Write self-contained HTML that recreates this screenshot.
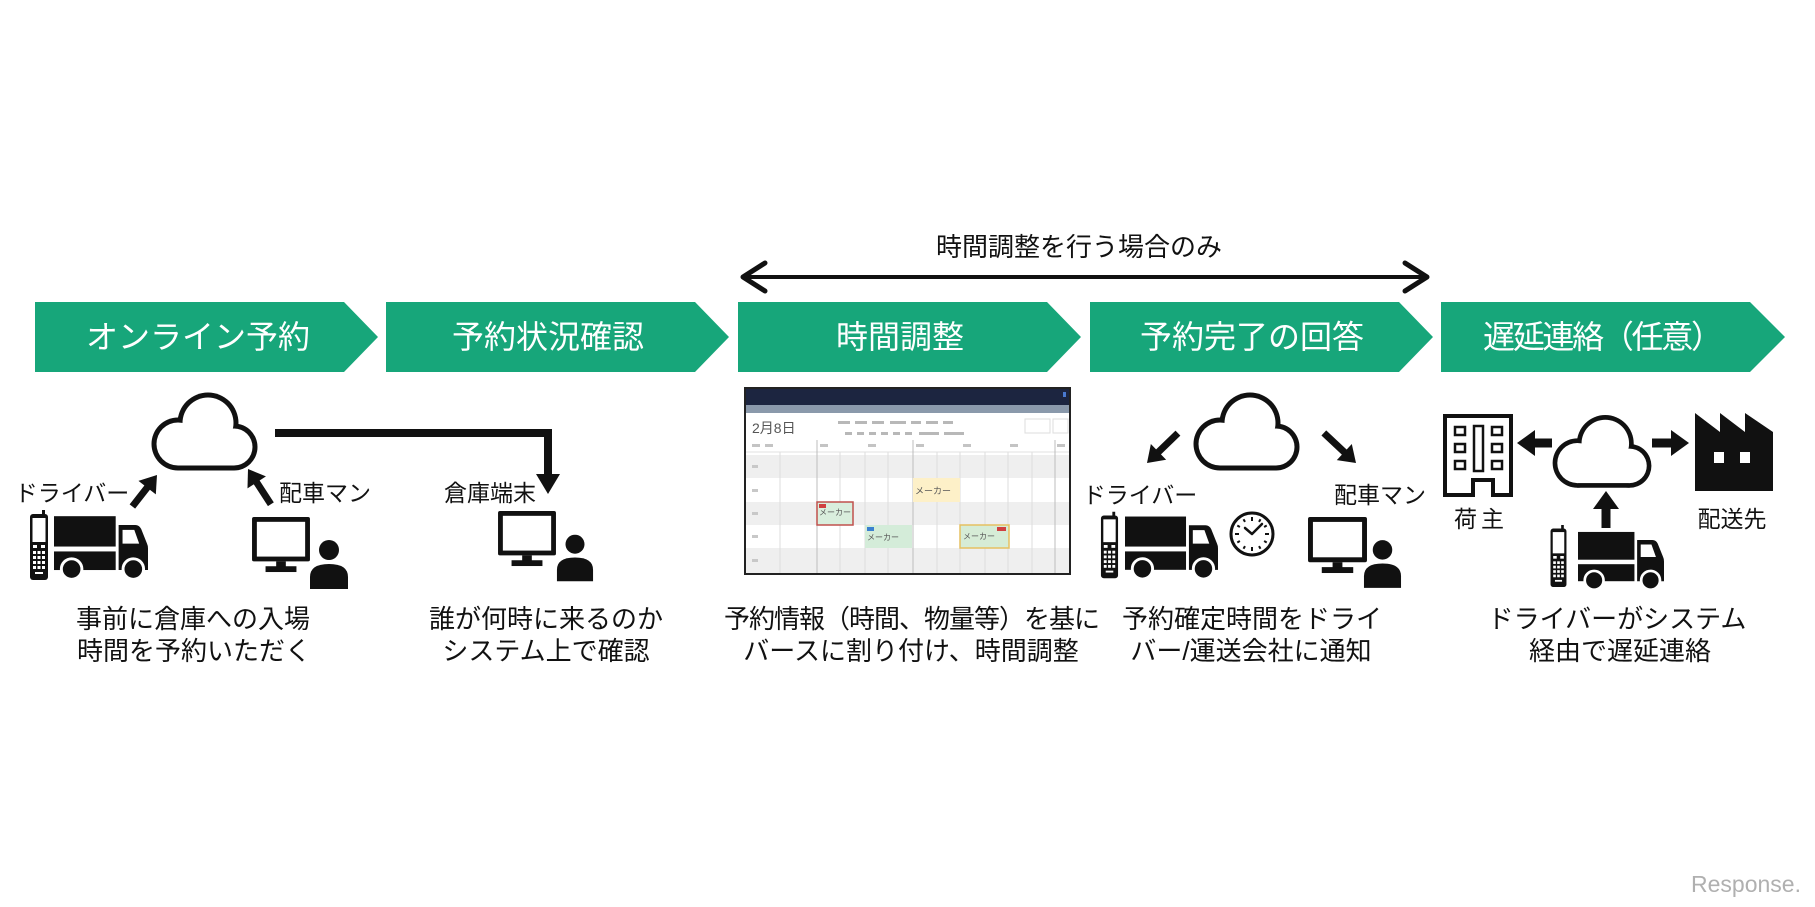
<!DOCTYPE html>
<html>
<head>
<meta charset="utf-8">
<style>
html,body{margin:0;padding:0;background:#fff;}
svg{display:block;}
text{font-family:"Liberation Sans","Noto Sans CJK JP",sans-serif;}
</style>
</head>
<body>
<svg width="1815" height="907" viewBox="0 0 1815 907" xmlns="http://www.w3.org/2000/svg">
<defs>
  <symbol id="cloud" viewBox="-3 -3 108 88">
    <g fill="#111">
      <circle cx="54" cy="34" r="30.5"/>
      <circle cx="24" cy="55" r="26.5"/>
      <circle cx="80" cy="58" r="23.5"/>
      <rect x="24" y="48" width="56" height="33.5"/>
    </g>
    <g fill="#fff">
      <circle cx="54" cy="34" r="25.5"/>
      <circle cx="24" cy="55" r="21.5"/>
      <circle cx="80" cy="58" r="18.5"/>
      <rect x="24" y="44" width="56" height="32.5"/>
    </g>
  </symbol>
  <symbol id="truck" viewBox="0 0 96 66">
    <rect x="0" y="0" width="63" height="31" fill="#111"/>
    <rect x="0" y="36" width="63" height="19" fill="#111"/>
    <path d="M66 9 H83 Q87 9 89 13 L95 28 Q96 30 96 33 V55 H66 Z" fill="#111"/>
    <path d="M70 14 H82 L87 28 H70 Z" fill="#fff"/>
    <circle cx="18" cy="54" r="10.5" fill="#111" stroke="#fff" stroke-width="3"/>
    <circle cx="81" cy="54" r="10.5" fill="#111" stroke="#fff" stroke-width="3"/>
  </symbol>
  <symbol id="phone" viewBox="0 0 20 70">
    <rect x="13" y="0" width="3" height="6" fill="#111"/>
    <rect x="1" y="4" width="18" height="66" rx="3" fill="#111"/>
    <rect x="3.5" y="8" width="13" height="24" fill="#fff"/>
    <rect x="4" y="35" width="4" height="3" fill="#fff"/><rect x="12" y="35" width="4" height="3" fill="#fff"/>
    <rect x="4" y="41" width="3" height="3" fill="#fff"/><rect x="8.5" y="41" width="3" height="3" fill="#fff"/><rect x="13" y="41" width="3" height="3" fill="#fff"/>
    <rect x="4" y="46" width="3" height="3" fill="#fff"/><rect x="8.5" y="46" width="3" height="3" fill="#fff"/><rect x="13" y="46" width="3" height="3" fill="#fff"/>
    <rect x="4" y="51" width="3" height="3" fill="#fff"/><rect x="8.5" y="51" width="3" height="3" fill="#fff"/><rect x="13" y="51" width="3" height="3" fill="#fff"/>
    <rect x="4" y="56" width="3" height="3" fill="#fff"/><rect x="8.5" y="56" width="3" height="3" fill="#fff"/><rect x="13" y="56" width="3" height="3" fill="#fff"/>
    <rect x="6" y="62" width="8" height="2" fill="#fff"/>
  </symbol>
  <symbol id="monitor" viewBox="0 0 60 58">
    <rect x="0" y="0" width="60" height="46" rx="2" fill="#111"/>
    <rect x="5" y="5" width="50" height="36" fill="#fff"/>
    <rect x="25" y="46" width="10" height="6" fill="#111"/>
    <rect x="14" y="51" width="32" height="6" fill="#111"/>
  </symbol>
  <symbol id="person" viewBox="0 0 40 50">
    <circle cx="20" cy="11" r="10" fill="#111"/>
    <path d="M1 50 V38 Q1 25 20 25 Q39 25 39 38 V50 Z" fill="#111"/>
  </symbol>
</defs>

<!-- Top double arrow -->
<text x="1079" y="247" font-size="26" fill="#111" text-anchor="middle" dominant-baseline="central">時間調整を行う場合のみ</text>
<line x1="744" y1="277" x2="1426" y2="277" stroke="#111" stroke-width="4"/>
<polyline points="765,263 743,277 765,291" fill="none" stroke="#111" stroke-width="5" stroke-linecap="round" stroke-linejoin="round"/>
<polyline points="1405,263 1427,277 1405,291" fill="none" stroke="#111" stroke-width="5" stroke-linecap="round" stroke-linejoin="round"/>

<!-- Banners -->
<g fill="#17a67a">
  <polygon points="35,302 344,302 378,337 344,372 35,372"/>
  <polygon points="386,302 695,302 729,337 695,372 386,372"/>
  <polygon points="738,302 1047,302 1081,337 1047,372 738,372"/>
  <polygon points="1090,302 1399,302 1433,337 1399,372 1090,372"/>
  <polygon points="1441,302 1750,302 1785,337 1750,372 1441,372"/>
</g>
<g fill="#fff" font-size="32" text-anchor="middle" dominant-baseline="central">
  <text x="198" y="337">オンライン予約</text>
  <text x="548" y="337">予約状況確認</text>
  <text x="900" y="337">時間調整</text>
  <text x="1252" y="337">予約完了の回答</text>
  <text x="1603" y="337" textLength="240" lengthAdjust="spacing">遅延連絡（任意）</text>
</g>

<!-- Panel 1 -->
<use href="#cloud" x="151" y="386" width="108" height="88"/>
<path d="M275 433 H548 V476" fill="none" stroke="#111" stroke-width="8"/>
<polygon points="536,474 560,474 548,494" fill="#111"/>
<g transform="translate(157,475) rotate(-52)" fill="#111">
  <rect x="-40" y="-3.5" width="27" height="7"/><polygon points="0,0 -16,-11 -16,11"/>
</g>
<g transform="translate(248,469) rotate(-123)" fill="#111">
  <rect x="-42" y="-3.5" width="29" height="7"/><polygon points="0,0 -16,-11 -16,11"/>
</g>
<g font-size="23" fill="#111" text-anchor="middle" dominant-baseline="central">
  <text x="72" y="493">ドライバー</text>
  <text x="325" y="493">配車マン</text>
  <text x="490" y="493">倉庫端末</text>
</g>
<use href="#phone" x="29" y="510" width="20" height="70"/>
<use href="#truck" x="54" y="516" width="94" height="65"/>
<use href="#monitor" x="252" y="517" width="58" height="56"/>
<use href="#person" x="309" y="539" width="40" height="50"/>

<!-- Panel 2 -->
<use href="#monitor" x="498" y="511" width="58" height="56"/>
<use href="#person" x="556" y="533" width="38" height="49"/>

<!-- Panel 3 : screenshot -->
<g>
  <rect x="745" y="388" width="325" height="186" fill="#fff" stroke="#222" stroke-width="2"/>
  <rect x="746" y="389" width="323" height="16" fill="#1c2540"/>
  <rect x="1063" y="392" width="3" height="5" fill="#4a7ad0"/>
  <rect x="746" y="405" width="323" height="8" fill="#8a99ab"/>
  <text x="752" y="428" font-size="14" fill="#555" dominant-baseline="central">2月8日</text>
  <g fill="#b8b8b8">
    <rect x="838" y="421" width="12" height="3"/><rect x="855" y="421" width="12" height="3"/><rect x="872" y="421" width="12" height="3"/><rect x="890" y="421" width="16" height="3"/><rect x="911" y="421" width="10" height="3"/><rect x="926" y="421" width="12" height="3"/><rect x="943" y="421" width="10" height="3"/>
    <rect x="845" y="432" width="7" height="3"/><rect x="857" y="432" width="7" height="3"/><rect x="869" y="432" width="7" height="3"/><rect x="881" y="432" width="7" height="3"/><rect x="893" y="432" width="7" height="3"/><rect x="905" y="432" width="7" height="3"/><rect x="919" y="432" width="20" height="3"/><rect x="944" y="432" width="20" height="3"/>
  </g>
  <rect x="1025" y="419" width="25" height="14" fill="#fff" stroke="#ddd"/>
  <rect x="1053" y="419" width="15" height="14" fill="#fff" stroke="#ddd"/>
  <g fill="#c4c4c4">
    <rect x="752" y="444" width="8" height="3"/><rect x="765" y="444" width="8" height="3"/><rect x="820" y="444" width="8" height="3"/><rect x="868" y="444" width="8" height="3"/><rect x="916" y="444" width="8" height="3"/><rect x="963" y="444" width="8" height="3"/><rect x="1010" y="444" width="8" height="3"/><rect x="1057" y="444" width="8" height="3"/>
  </g>
  <line x1="746" y1="452" x2="1069" y2="452" stroke="#e2e2e2"/>
  <rect x="746" y="455" width="323" height="23" fill="#efefef"/>
  <rect x="746" y="502" width="323" height="23" fill="#efefef"/>
  <rect x="746" y="548" width="323" height="25" fill="#efefef"/>
  <g stroke="#dedede" stroke-width="1">
    <line x1="780" y1="452" x2="780" y2="573"/><line x1="840" y1="452" x2="840" y2="573"/><line x1="865" y1="452" x2="865" y2="573"/><line x1="888" y1="452" x2="888" y2="573"/><line x1="937" y1="452" x2="937" y2="573"/><line x1="960" y1="452" x2="960" y2="573"/><line x1="985" y1="452" x2="985" y2="573"/><line x1="1008" y1="452" x2="1008" y2="573"/><line x1="1032" y1="452" x2="1032" y2="573"/>
  </g>
  <g stroke="#bcbcbc" stroke-width="1">
    <line x1="817" y1="440" x2="817" y2="573"/><line x1="913" y1="440" x2="913" y2="573"/><line x1="1055" y1="440" x2="1055" y2="573"/>
  </g>
  <g fill="#c8c8c8">
    <rect x="752" y="465" width="6" height="3"/><rect x="752" y="489" width="6" height="3"/><rect x="752" y="512" width="6" height="3"/><rect x="752" y="535" width="6" height="3"/><rect x="752" y="559" width="6" height="3"/>
  </g>
  <rect x="913" y="478" width="47" height="24" fill="#fdf0c8"/>
  <text x="915" y="494" font-size="9" fill="#555">メーカー</text>
  <rect x="817" y="502" width="36" height="23" fill="#d9eedd" stroke="#c0504d" stroke-width="1.5"/>
  <rect x="819" y="504" width="7" height="4" fill="#d04040"/>
  <text x="819" y="515" font-size="8" fill="#555">メーカー</text>
  <rect x="865" y="525" width="47" height="23" fill="#d4ecd9"/>
  <rect x="867" y="527" width="7" height="4" fill="#3a80d0"/>
  <text x="867" y="540" font-size="8" fill="#555">メーカー</text>
  <rect x="960" y="525" width="49" height="23" fill="#d6ecd6" stroke="#e6c060" stroke-width="1.5"/>
  <rect x="997" y="527" width="9" height="4" fill="#d04040"/>
  <text x="963" y="539" font-size="8" fill="#555">メーカー</text>
</g>

<!-- Panel 4 -->
<use href="#cloud" x="1193" y="386" width="108" height="88"/>
<g transform="translate(1147,463) rotate(136)" fill="#111">
  <rect x="-43" y="-3.5" width="30" height="7"/><polygon points="0,0 -16,-11 -16,11"/>
</g>
<g transform="translate(1356,463) rotate(43)" fill="#111">
  <rect x="-44" y="-3.5" width="31" height="7"/><polygon points="0,0 -16,-11 -16,11"/>
</g>
<g font-size="23" fill="#111" text-anchor="middle" dominant-baseline="central">
  <text x="1140" y="495">ドライバー</text>
  <text x="1380" y="495">配車マン</text>
</g>
<use href="#phone" x="1100" y="511" width="19" height="68"/>
<use href="#truck" x="1125" y="516" width="93" height="65"/>
<g transform="translate(1252,534)">
  <circle cx="0" cy="0" r="21" fill="#fff" stroke="#111" stroke-width="3"/>
  <g stroke="#111" stroke-width="2">
    <line x1="0" y1="-17" x2="0" y2="-13" transform="rotate(0)"/>
    <line x1="0" y1="-17" x2="0" y2="-14" transform="rotate(30)"/>
    <line x1="0" y1="-17" x2="0" y2="-14" transform="rotate(60)"/>
    <line x1="0" y1="-17" x2="0" y2="-13" transform="rotate(90)"/>
    <line x1="0" y1="-17" x2="0" y2="-14" transform="rotate(120)"/>
    <line x1="0" y1="-17" x2="0" y2="-14" transform="rotate(150)"/>
    <line x1="0" y1="-17" x2="0" y2="-13" transform="rotate(180)"/>
    <line x1="0" y1="-17" x2="0" y2="-14" transform="rotate(210)"/>
    <line x1="0" y1="-17" x2="0" y2="-14" transform="rotate(240)"/>
    <line x1="0" y1="-17" x2="0" y2="-13" transform="rotate(270)"/>
    <line x1="0" y1="-17" x2="0" y2="-14" transform="rotate(300)"/>
    <line x1="0" y1="-17" x2="0" y2="-14" transform="rotate(330)"/>
  </g>
  <polyline points="-7,-6 0,0 10,-10" fill="none" stroke="#111" stroke-width="2.5" stroke-linecap="round" stroke-linejoin="round"/>
</g>
<use href="#monitor" x="1308" y="517" width="59" height="57"/>
<use href="#person" x="1363" y="539" width="39" height="49"/>

<!-- Panel 5 -->
<path d="M1445 416 H1511 V495 H1493 V480 H1473 V495 H1445 Z" fill="#fff" stroke="#111" stroke-width="4"/>
<g fill="#fff" stroke="#111" stroke-width="2.5">
  <rect x="1455" y="427" width="10" height="8"/><rect x="1455" y="444" width="10" height="8"/><rect x="1455" y="461" width="10" height="8"/>
  <rect x="1492" y="427" width="10" height="8"/><rect x="1492" y="444" width="10" height="8"/><rect x="1492" y="461" width="10" height="8"/>
  <rect x="1474" y="426" width="9" height="45"/>
</g>
<use href="#cloud" x="1552" y="409" width="101" height="82"/>
<g transform="translate(1517,443) rotate(180)" fill="#111">
  <rect x="-35" y="-4.5" width="20" height="9"/><polygon points="0,0 -18,-13 -18,13"/>
</g>
<g transform="translate(1689,443)" fill="#111">
  <rect x="-37" y="-4.5" width="22" height="9"/><polygon points="0,0 -18,-13 -18,13"/>
</g>
<g transform="translate(1606,491) rotate(-90)" fill="#111">
  <rect x="-37" y="-4.5" width="22" height="9"/><polygon points="0,0 -18,-13 -18,13"/>
</g>
<path d="M1695 491 V413 L1720 432 V413 L1745 432 V413 L1773 432 V491 Z" fill="#111"/>
<rect x="1714" y="452" width="10" height="11" fill="#fff"/>
<rect x="1740" y="452" width="10" height="11" fill="#fff"/>
<g font-size="23" fill="#111" text-anchor="middle" dominant-baseline="central">
  <text x="1481" y="519" letter-spacing="4">荷主</text>
  <text x="1732" y="519">配送先</text>
</g>
<use href="#phone" x="1549" y="525" width="19" height="62"/>
<use href="#truck" x="1578" y="531" width="86" height="61"/>

<!-- Descriptions -->
<g font-size="26" fill="#111" text-anchor="middle" dominant-baseline="central">
  <text x="193" y="619">事前に倉庫への入場</text>
  <text x="194" y="651">時間を予約いただく</text>
  <text x="546" y="619">誰が何時に来るのか</text>
  <text x="546" y="651">システム上で確認</text>
  <text x="912" y="619" textLength="376" lengthAdjust="spacing">予約情報（時間、物量等）を基に</text>
  <text x="911" y="651">バースに割り付け、時間調整</text>
  <text x="1252" y="619">予約確定時間をドライ</text>
  <text x="1251" y="651">バー/運送会社に通知</text>
  <text x="1617" y="619">ドライバーがシステム</text>
  <text x="1620" y="651">経由で遅延連絡</text>
</g>

<!-- Watermark -->
<text x="1746" y="884" font-size="23" fill="#b0b0b0" text-anchor="middle" dominant-baseline="central">Response.</text>
</svg>
</body>
</html>
